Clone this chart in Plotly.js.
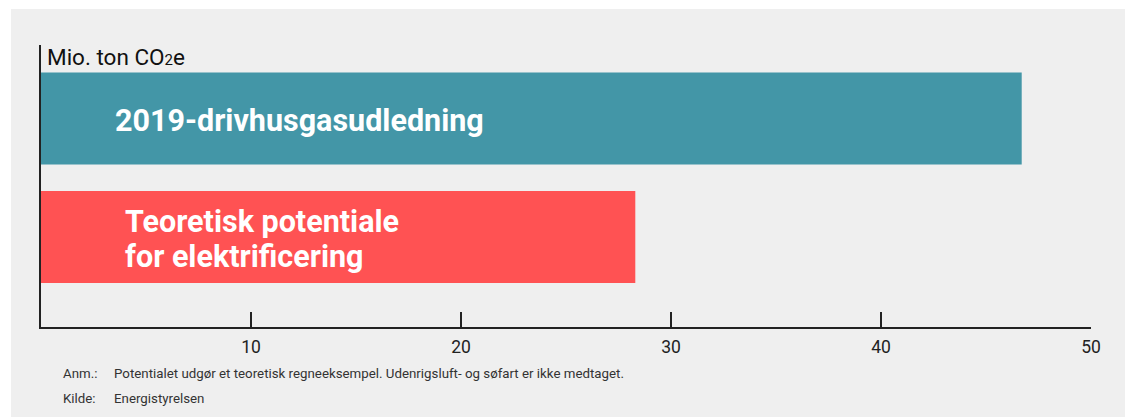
<!DOCTYPE html>
<html>
<head>
<meta charset="utf-8">
<script src="https://cdn.plot.ly/plotly-3.0.1.min.js"></script>
<style>
html,body{margin:0;padding:0;background:#ffffff;}
#wrap{position:absolute;left:11px;top:9px;width:1114px;height:408px;background:#efefef;}
#chart{width:1114px;height:408px;}
</style>
</head>
<body>
<div id="wrap"><div id="chart"></div></div>
<script>
const categories = ["Teoretisk potentiale<br>for elektrificering", "2019-drivhusgasudledning"];
const values = [28.3, 46.7];
const barColors = ["#ff5253", "#4396a7"];
const tickValues = [10, 20, 30, 40, 50];
const axisTitle = "Mio. ton CO₂e";
const noteLabel = "Anm.:";
const noteText = "Potentialet udgør et teoretisk regneeksempel. Udenrigsluft- og søfart er ikke medtaget.";
const sourceLabel = "Kilde:";
const sourceText = "Energistyrelsen";
const labelOffsets = [0.078, 0.0686];

const trace = {
  type: 'bar',
  orientation: 'h',
  x: values,
  y: categories,
  marker: {color: barColors},
  width: 0.776,
  hoverinfo: 'none'
};

const annotations = [];
const lineGap = 35;
categories.forEach((c, i) => {
  const lines = c.split('<br>');
  const n = lines.length;
  lines.forEach((ln, j) => {
    annotations.push({
      xref: 'paper', yref: 'y', x: labelOffsets[i], y: c,
      yshift: ((n - 1) / 2 - j) * lineGap - 2.5,
      text: '<b>' + ln + '</b>', showarrow: false,
      xanchor: 'left', yanchor: 'middle', align: 'left',
      font: {family: 'Roboto', size: 30.5, color: '#ffffff'}
    });
  });
});

annotations.push({
  xref: 'paper', yref: 'paper', x: 0.004, y: 1.0, xanchor: 'left', yanchor: 'top',
  yshift: 3,
  text: axisTitle.replace('₂', '<span style="font-size:15px">2</span>'), showarrow: false,
  font: {family: 'Roboto', size: 22.5, color: '#111111'}
});
annotations.push({
  xref: 'paper', yref: 'paper', x: 0.0195, y: -0.165, xanchor: 'left', yanchor: 'middle',
  text: noteLabel, showarrow: false, font: {family: 'Roboto', size: 13.3, color: '#333333'}
});
annotations.push({
  xref: 'paper', yref: 'paper', x: 0.0675, y: -0.165, xanchor: 'left', yanchor: 'middle',
  text: noteText, showarrow: false, font: {family: 'Roboto', size: 13.3, color: '#333333'}
});
annotations.push({
  xref: 'paper', yref: 'paper', x: 0.0195, y: -0.252, xanchor: 'left', yanchor: 'middle',
  text: sourceLabel, showarrow: false, font: {family: 'Roboto', size: 13.3, color: '#333333'}
});
annotations.push({
  xref: 'paper', yref: 'paper', x: 0.0675, y: -0.252, xanchor: 'left', yanchor: 'middle',
  text: sourceText, showarrow: false, font: {family: 'Roboto', size: 13.3, color: '#333333'}
});

const layout = {
  width: 1114, height: 408,
  margin: {l: 30, r: 34, t: 36, b: 90},
  paper_bgcolor: '#efefef',
  plot_bgcolor: '#efefef',
  showlegend: false,
  xaxis: {
    range: [0, 50],
    tickvals: tickValues,
    ticks: 'inside', ticklen: 15, tickwidth: 1.5, tickcolor: '#222222',
    ticklabelstandoff: 3,
    showline: true, linecolor: '#222222', linewidth: 2,
    showgrid: false, zeroline: false,
    tickfont: {family: 'Roboto', size: 17.5, color: '#222222'},
    fixedrange: true
  },
  yaxis: {
    type: 'category',
    categoryorder: 'array', categoryarray: categories,
    range: [-0.76, 1.62],
    showticklabels: false, ticks: '',
    showline: true, linecolor: '#222222', linewidth: 2,
    showgrid: false, zeroline: false,
    fixedrange: true
  },
  annotations: annotations
};

Plotly.newPlot('chart', [trace], layout, {displayModeBar: false, staticPlot: true});
</script>
</body>
</html>
